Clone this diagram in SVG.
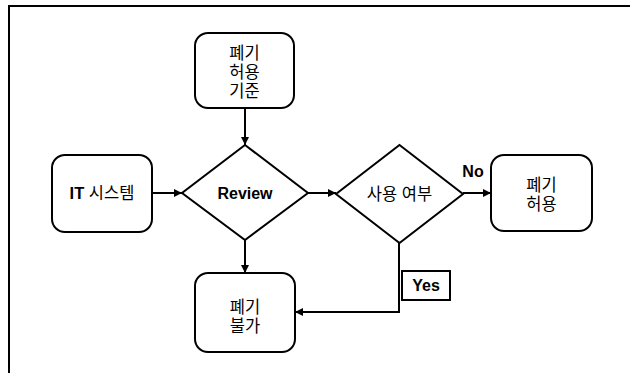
<svg xmlns="http://www.w3.org/2000/svg" width="630" height="373" viewBox="0 0 630 373">
<style>
.shape{fill:#fff;stroke:#000;stroke-width:2}
.line{fill:none;stroke:#000;stroke-width:2}
.ko{font-family:"Liberation Sans","Noto Sans CJK KR",sans-serif;font-size:16.5px;fill:#000;text-anchor:middle}
.en{font-family:"Liberation Sans",Arial,sans-serif;font-size:16px;font-weight:bold;fill:#000;text-anchor:middle}
</style>
<defs>
<marker id="ah" viewBox="0 0 10 10" refX="10" refY="5" markerWidth="4" markerHeight="4" orient="auto" markerUnits="strokeWidth">
<path d="M0,0 L10,5 L0,10 z" fill="#000"/>
</marker>
</defs>
<rect width="630" height="373" fill="#fff"/>
<g id="frame">
<path d="M9,373 V6 H630" fill="none" stroke="#000" stroke-width="2"/>
</g>
<g id="connectors">
<path class="line" d="M245,108 V145" marker-end="url(#ah)"/>
<path class="line" d="M152,193 H182" marker-end="url(#ah)"/>
<path class="line" d="M308,193 H336" marker-end="url(#ah)"/>
<path class="line" d="M463,193 H491" marker-end="url(#ah)"/>
<path class="line" d="M245,240 V273" marker-end="url(#ah)"/>
<path class="line" d="M399,243 V312 H295" marker-end="url(#ah)"/>
</g>
<g id="criteria">
<rect class="shape" x="195" y="33" width="99" height="75" rx="13"/>
<text class="ko" x="244.5" y="59">폐기</text>
<text class="ko" x="244.5" y="78">허용</text>
<text class="ko" x="244.5" y="97">기준</text>
</g>
<g id="it-system">
<rect class="shape" x="52" y="155" width="100" height="77" rx="13"/>
<text class="ko" x="102" y="199"><tspan font-weight="bold">IT</tspan> 시스템</text>
</g>
<g id="review">
<path class="shape" d="M245,145 L308,193 L245,240 L182,193 Z"/>
<text class="en" x="245" y="199">Review</text>
</g>
<g id="usage">
<path class="shape" d="M399.5,145 L463,194 L399.5,243 L336,194 Z"/>
<text class="ko" x="399.5" y="200">사용 여부</text>
</g>
<g id="allow">
<rect class="shape" x="491" y="155" width="101" height="76" rx="13"/>
<text class="ko" x="541.5" y="191">폐기</text>
<text class="ko" x="541.5" y="210">허용</text>
</g>
<g id="deny">
<rect class="shape" x="195" y="273" width="100" height="79" rx="13"/>
<text class="ko" x="245" y="313">폐기</text>
<text class="ko" x="245" y="332">불가</text>
</g>
<g id="label-no">
<text class="en" x="473" y="177">No</text>
</g>
<g id="label-yes">
<rect class="shape" x="402" y="271" width="48" height="29"/>
<text class="en" x="426" y="291">Yes</text>
</g>
</svg>
